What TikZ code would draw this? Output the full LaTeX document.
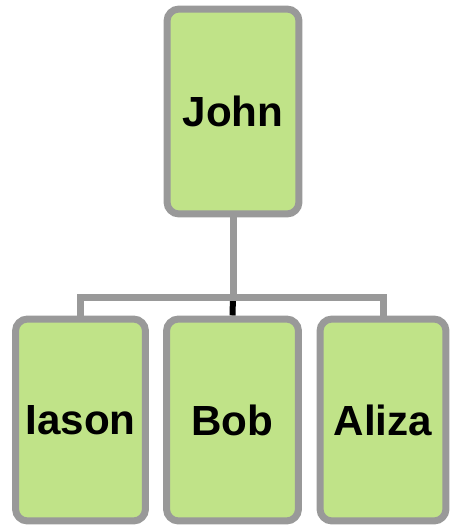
\documentclass[tikz,border=0pt]{standalone}
\usepackage{fontspec}
\setmainfont{Liberation Sans}
\usetikzlibrary{positioning,backgrounds}
\definecolor{leaf}{RGB}{192,227,136}
\definecolor{frame}{RGB}{153,153,153}

\begin{document}
\begin{tikzpicture} [x=0.02cm, y=-0.02cm]
            % Estilos
            \tikzstyle{person}=[rectangle, rounded corners=0.24cm, draw=frame, fill=leaf, line width=0.14cm, minimum height=4.04cm, font=\fontsize{24}{28}\selectfont\bfseries]
            \tikzstyle{link}=[draw=frame, line width=0.14cm]

            \useasboundingbox (0,0) rectangle (450,528);

            % Nós
            \node[person, minimum width=2.64cm, minimum height=4.1cm] (john) at (233,111.5) {John};
            \node[person, minimum width=2.6cm] (iason) at (80.5,420) {Iason};
            \node[person, minimum width=2.64cm] (bob) at (232.5,420) {Bob};
            \node[person, minimum width=2.52cm] (aliza) at (383,420) {Aliza};
            \coordinate (bar) at (233,297);

            % Arestas
            \begin{scope}[on background layer]
            \draw[line width=0.12cm] (bar) -- (bob.north);
            \draw[link] (john.south) -- (bar) -| (iason.north);
            \draw[link] (bar) -| (aliza.north);
            \end{scope}
        \end{tikzpicture}
\end{document}
